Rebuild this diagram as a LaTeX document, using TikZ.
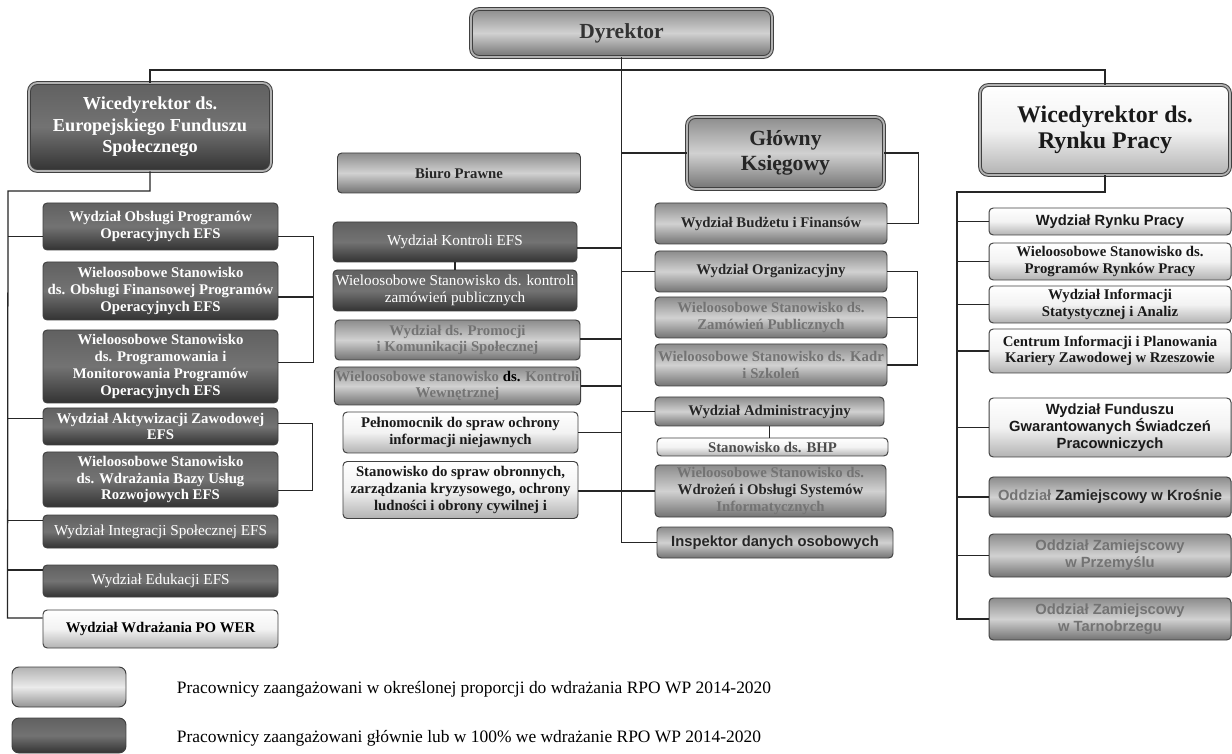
\documentclass[tikz,border=0pt]{standalone}
\usepackage{fontspec}
\setmainfont{Liberation Serif}
\setsansfont{Liberation Sans}
\usetikzlibrary{positioning, calc}
\tikzset{x = 0.025cm, y = -0.025cm,
         orgbox/.style = {rectangle, rounded corners = 3pt,
                          draw = black!75, line width = 0.7pt,
                          align = center, inner sep = 1pt,
                          font = \fontsize{10.5}{11.9}\selectfont\bfseries},
         darkbox/.style = {orgbox, top color = black!62, bottom color = black!80,
                           middle color = black!55, text = white},
         midbox/.style = {orgbox, top color = black!45, bottom color = black!55,
                          middle color = black!18, text = black!85},
         lightbox/.style = {orgbox, top color = white, bottom color = black!30,
                            middle color = black!5, text = black!90},
         headbox/.style = {double = black!30, double distance = 1.3pt,
                           rounded corners = 6pt},
         thinfont/.style = {font = \fontsize{10.8}{12}\selectfont},
         sanstext/.style = {font = \fontsize{10.5}{11.9}\selectfont\sffamily\bfseries},
         boxw/.style = {minimum width = #1*0.025cm},
         boxh/.style = {minimum height = #1*0.025cm},
         wire/.style = {draw = black!85, line width = 0.9pt}}

\begin{document}
\begin{tikzpicture}
    \fill[white] (0,0) rectangle (1232,754);
    \useasboundingbox (0,0) rectangle (1232,754);

    \node[midbox, headbox, boxw = 301, boxh = 48, text = black!80,
          font = \fontsize{15.3}{17}\selectfont\bfseries]    (dyr)  at (621.5,33)  {Dyrektor};
    \node[darkbox, headbox, boxw = 242, boxh = 88,
          font = \fontsize{13}{15.3}\selectfont\bfseries]    (vdl)  at (150,127)   {Wicedyrektor ds.\\Europejskiego Funduszu\\Społecznego};
    \node[lightbox, headbox, boxw = 250, boxh = 90,
          font = \fontsize{17}{18.5}\selectfont\bfseries]    (vdr)  at (1105,130)  {Wicedyrektor ds.\\Rynku Pracy};
    \node[midbox, headbox, boxw = 197, boxh = 72,
          font = \fontsize{15.4}{17.8}\selectfont\bfseries]  (gk)   at (785.5,153) {Główny\\Księgowy};

    \node[midbox, boxw = 243, boxh = 40]                     (biuro) at (459,173)   {Biuro Prawne};
    \node[darkbox, thinfont, boxw = 244, boxh = 40]          (kefs)  at (455,242)   {Wydział Kontroli EFS};
    \node[darkbox, thinfont, boxw = 244, boxh = 41]          (kzam)  at (455,290.5) {Wieloosobowe Stanowisko ds. kontroli\\zamówień publicznych};
    \node[midbox, boxw = 245, boxh = 40, text = black!55]    (prom)  at (457.5,340) {Wydział ds. Promocji\\i Komunikacji Społecznej};
    \node[midbox, boxw = 245, boxh = 38, text = black!55]    (kwew)  at (457.5,386) {Wieloosobowe stanowisko \textcolor{black}{ds.} Kontroli\\Wewnętrznej};
    \node[lightbox, boxw = 235, boxh = 41]                   (peln)  at (460.5,432.5) {Pełnomocnik do spraw ochrony\\informacji niejawnych};
    \node[lightbox, boxw = 235, boxh = 57]                   (obr)   at (460.5,490) {Stanowisko do spraw obronnych,\\zarządzania kryzysowego, ochrony\\ludności i obrony cywilnej i};

    \node[midbox, boxw = 232, boxh = 41]                     (bud)   at (771,223.5) {Wydział Budżetu i Finansów};
    \node[midbox, boxw = 232, boxh = 41]                     (org)   at (771,271.5) {Wydział Organizacyjny};
    \node[midbox, boxw = 232, boxh = 41, text = black!55]    (zam)   at (771,317.5) {Wieloosobowe Stanowisko ds.\\Zamówień Publicznych};
    \node[midbox, boxw = 232, boxh = 42, text = black!55]    (kadr)  at (771,365)   {Wieloosobowe Stanowisko ds. Kadr\\i Szkoleń};
    \node[midbox, boxw = 229, boxh = 29]                     (adm)   at (769.5,411.5) {Wydział Administracyjny};
    \node[lightbox, boxw = 231, boxh = 18, inner sep = 0pt,
          text = black!70]                                   (bhp)   at (772.5,447) {Stanowisko ds. BHP};
    \node[midbox, boxw = 231, boxh = 52]                     (wdr)   at (770.5,491) {\textcolor{black!55}{Wieloosobowe Stanowisko ds.}\\Wdrożeń i Obsługi Systemów\\\textcolor{black!55}{Informatycznych}};
    \node[midbox, sanstext, boxw = 236, boxh = 31]           (insp)  at (775,542.5) {Inspektor danych osobowych};

    \node[lightbox, sanstext, boxw = 242, boxh = 27]         (rynek) at (1110,221.5) {Wydział Rynku Pracy};
    \node[lightbox, boxw = 242, boxh = 37]                   (prr)   at (1110,261.5) {Wieloosobowe Stanowisko ds.\\Programów Rynków Pracy};
    \node[lightbox, boxw = 242, boxh = 37]                   (stat)  at (1110,304.5) {Wydział Informacji\\Statystycznej i Analiz};
    \node[lightbox, boxw = 242, boxh = 44]                   (cent)  at (1110,351)   {Centrum Informacji i Planowania\\Kariery Zawodowej w Rzeszowie};
    \node[lightbox, sanstext, boxw = 242, boxh = 59]         (fund)  at (1110,427.5) {Wydział Funduszu\\Gwarantowanych Świadczeń\\Pracowniczych};
    \node[midbox, sanstext, boxw = 242, boxh = 40]           (kros)  at (1110,497)   {\textcolor{black!55}{Oddział} Zamiejscowy w Krośnie};
    \node[midbox, sanstext, boxw = 242, boxh = 43,
          text = black!55]                                   (przem) at (1110,555.5) {Oddział Zamiejscowy\\w Przemyślu};
    \node[midbox, sanstext, boxw = 242, boxh = 42,
          text = black!55]                                   (tarn)  at (1110,619)   {Oddział Zamiejscowy\\w Tarnobrzegu};

    \node[darkbox, boxw = 235, boxh = 47]                    (obs)   at (160.5,226.5) {Wydział Obsługi Programów\\Operacyjnych EFS};
    \node[darkbox, boxw = 235, boxh = 58]                    (fin)   at (160.5,291)   {Wieloosobowe Stanowisko\\ds. Obsługi Finansowej Programów\\Operacyjnych EFS};
    \node[darkbox, boxw = 235, boxh = 73]                    (prog)  at (160.5,366.5) {Wieloosobowe Stanowisko\\ds. Programowania i\\Monitorowania Programów\\Operacyjnych EFS};
    \node[darkbox, boxw = 235, boxh = 37]                    (akt)   at (160.5,426.5) {Wydział Aktywizacji Zawodowej\\EFS};
    \node[darkbox, boxw = 235, boxh = 55]                    (bazy)  at (160.5,479.5) {Wieloosobowe Stanowisko\\ds. Wdrażania Bazy Usług\\Rozwojowych EFS};
    \node[darkbox, thinfont, boxw = 235, boxh = 33]          (integ) at (160.5,531.5) {Wydział Integracji Społecznej EFS};
    \node[darkbox, thinfont, boxw = 235, boxh = 32]          (eduk)  at (160.5,581)   {Wydział Edukacji EFS};
    \node[lightbox, text = black, boxw = 235, boxh = 38]     (power) at (160.5,629)   {Wydział Wdrażania PO WER};

    \node[midbox, top color = black!30, bottom color = black!42, middle color = black!8,
          rounded corners = 5pt, boxw = 114, boxh = 40]      (key1)  at (69,687) {};
    \node[darkbox, rounded corners = 5pt, boxw = 114, boxh = 35] (key2) at (69,735.5) {};
    \node[anchor = base west, font = \fontsize{12.4}{14}\selectfont] (key1txt) at (172,693)
         {Pracownicy zaangażowani w określonej proporcji do wdrażania RPO WP 2014-2020};
    \node[anchor = base west, font = \fontsize{12.4}{14}\selectfont] (key2txt) at (172,742)
         {Pracownicy zaangażowani głównie lub w 100\% we wdrażanie RPO WP 2014-2020};

    \coordinate (top)  at (621.5,70);
    \coordinate (lbus) at (8,191);
    \coordinate (rbus) at (957,192);

    \draw[wire] (dyr.south) |- (insp.west);
    \draw[wire] (vdl.north) -- (vdl.north |- top) -- (vdr.north |- top) -- (vdr.north);
    \foreach \n in {gk, org, adm, wdr}
        \draw[wire] (\n.west) -- (dyr.south |- \n.west);
    \foreach \n/\dy in {kefs/6, prom/-1, kwew/0, peln/0, obr/1}
        \draw[wire] ($(\n.east)+(0,\dy)$) -| (top);
    \draw[wire] (kefs.south) -- (kzam.north);

    \draw[wire] (gk.east) -- ++(34,0) |- (bud.east);
    \draw[wire] (org.east) -- ++(30,0) |- (kadr.east);
    \draw[wire] (zam.east) -- ++(30,0);
    \draw[wire] (adm.south) -- (adm.south |- bhp.north);

    \draw[wire] (vdr.south) |- (rbus) |- (tarn.west);
    \foreach \n in {rynek, prr, stat, cent, fund, kros, przem}
        \draw[wire] (rbus |- \n.west) -- (\n.west);

    \draw[wire] (vdl.south) |- (lbus) -- ($(power.west)+(-35,-11)$) -- ($(power.west)+(0,-11)$);
    \foreach \n/\dy in {obs/10, akt/-8, integ/-11, eduk/-11}
        \draw[wire] ($(\n.west)+(0,\dy)$) -- ++(-35,0);
    \draw[wire] ($(obs.east)+(0,10)$) -- ++(35,0) |- ($(prog.east)+(0,-4)$);
    \draw[wire] ($(fin.east)+(0,6)$) -- ++(35,0);
    \draw[wire, line width = 1.4pt] ($(akt.east)+(0,-3)$) -- ++(34,0) |- ($(bazy.east)+(0,11)$);
\end{tikzpicture}
\end{document}
